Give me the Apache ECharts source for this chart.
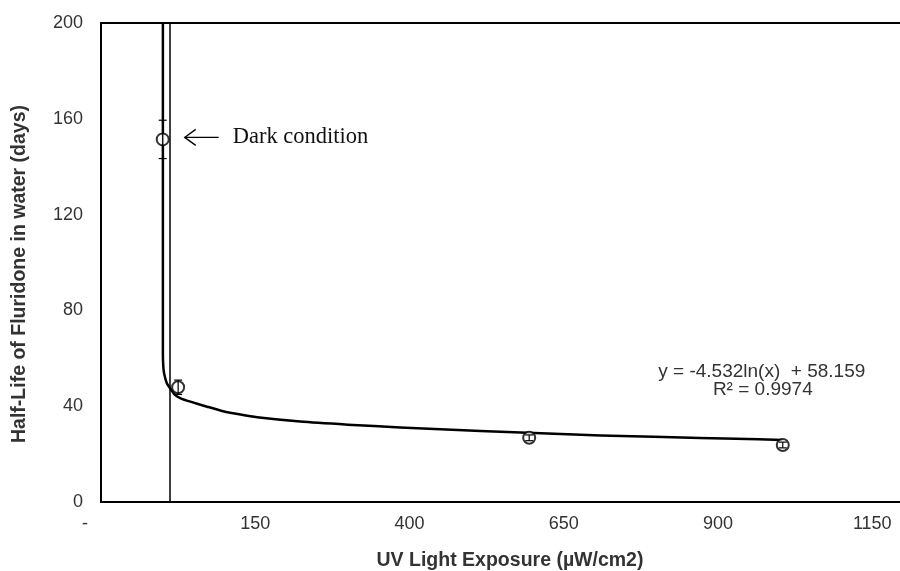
<!DOCTYPE html>
<html lang="en" style="height: 100%">

<head>
  <meta charset="utf-8">
</head>

<body style="height: 100%; margin: 0; background: #fff">
  <div id="container" style="width: 900px; height: 571px"></div>

  <script type="text/javascript" src="https://cdn.jsdelivr.net/npm/echarts@6/dist/echarts.min.js"></script>

  <script type="text/javascript">
    // measured points (UV exposure vs. half-life)
    var uvExposure = [0, 25, 594, 1005];
    var halfLife = [151.4, 47.9, 26.8, 23.8];
    var halfLifeErr = [8, 3, 1.2, 1.2];

    // log trendline
    var trendX = [0.3, 0.3, 1, 2.3, 6.7, 12, 20, 30, 45, 72, 98, 126, 153, 223, 300, 385, 515, 624, 710, 812, 929, 1005];
    var trendY = [200, 62, 56.5, 53.7, 49.6, 47.5, 44.7, 43.2, 41.9, 39.8, 37.9, 36.5, 35.4, 33.6, 32.3, 31.1, 29.6, 28.6, 27.8, 27.1, 26.4, 25.9];

    // thin vertical line next to the dark condition
    var refLineX = 12;

    var xTicks = { min: -100, max: 1195, step: 250 };
    var yTicks = { min: 0, max: 200, step: 40 };

    var dom = document.getElementById('container');
    var myChart = echarts.init(dom, null, { renderer: 'canvas' });

    var points = uvExposure.map(function (x, i) { return [x, halfLife[i]]; });
    var errBars = uvExposure.map(function (x, i) {
      return [x, halfLife[i] - halfLifeErr[i], halfLife[i] + halfLifeErr[i]];
    });
    var trend = trendX.map(function (x, i) { return [x, trendY[i]]; });

    var sans = '"Liberation Sans", Arial, sans-serif';
    var textColor = '#333';
    var axisLine = { show: true, onZero: false, lineStyle: { color: '#000', width: 2 } };

    var option = {
      animation: false,
      backgroundColor: '#fff',
      grid: { left: 101, right: 0, top: 23, bottom: 69 },
      xAxis: [
        {
          type: 'value',
          min: xTicks.min,
          max: xTicks.max,
          interval: xTicks.step,
          axisLine: axisLine,
          axisTick: { show: false },
          splitLine: { show: false },
          axisLabel: {
            color: textColor,
            fontFamily: sans,
            fontSize: 18,
            margin: 13,
            showMaxLabel: false,
            formatter: function (v) {
              if ((v - xTicks.min) % xTicks.step !== 0) return '';
              return v === xTicks.min ? '{dash|-}' : String(v);
            },
            rich: {
              dash: { color: textColor, fontFamily: sans, fontSize: 18, padding: [0, 32, 0, 0] }
            }
          }
        },
        {
          // top frame line
          type: 'value',
          position: 'top',
          min: xTicks.min,
          max: xTicks.max,
          axisLine: axisLine,
          axisTick: { show: false },
          axisLabel: { show: false },
          splitLine: { show: false }
        }
      ],
      yAxis: {
        type: 'value',
        min: yTicks.min,
        max: yTicks.max,
        interval: yTicks.step,
        axisLine: axisLine,
        axisTick: { show: false },
        splitLine: { show: false },
        axisLabel: {
          color: textColor,
          fontFamily: sans,
          fontSize: 18,
          margin: 18
        }
      },
      series: [
        {
          type: 'line',
          data: trend,
          showSymbol: false,
          smooth: 0.2,
          lineStyle: { color: '#000', width: 2.5, join: 'round' },
          z: 2,
          markLine: {
            silent: true,
            symbol: 'none',
            label: { show: false },
            lineStyle: { color: '#000', width: 1.5, type: 'solid' },
            data: [{ xAxis: refLineX }]
          }
        },
        {
          type: 'scatter',
          data: points,
          symbol: 'emptyCircle',
          symbolSize: 12,
          itemStyle: { color: '#000', borderWidth: 2.5 },
          z: 3
        },
        {
          type: 'custom',
          data: errBars,
          z: 4,
          renderItem: function (params, api) {
            var x = api.value(0);
            var lo = api.coord([x, api.value(1)]);
            var hi = api.coord([x, api.value(2)]);
            var cap = 4;
            var style = { stroke: '#000', lineWidth: 1.2 };
            return {
              type: 'group',
              children: [
                { type: 'line', shape: { x1: lo[0], y1: lo[1], x2: hi[0], y2: hi[1] }, style: style },
                { type: 'line', shape: { x1: lo[0] - cap, y1: lo[1], x2: lo[0] + cap, y2: lo[1] }, style: style },
                { type: 'line', shape: { x1: hi[0] - cap, y1: hi[1], x2: hi[0] + cap, y2: hi[1] }, style: style }
              ]
            };
          }
        }
      ]
    };

    myChart.setOption(option);

    // annotations placed from the chart's own scale
    var dark = myChart.convertToPixel({ gridIndex: 0 }, points[0]);
    var eqAt = myChart.convertToPixel({ gridIndex: 0 }, [971, 54.3]);

    myChart.setOption({
      graphic: [
        {
          type: 'text',
          x: 510, y: 561,
          style: {
            text: 'UV Light Exposure (µW/cm2)',
            fontFamily: sans, fontSize: 19.5, fontWeight: 'bold',
            fill: textColor, align: 'center', verticalAlign: 'middle'
          }
        },
        {
          type: 'text',
          x: 20, y: 274,
          rotation: Math.PI / 2,
          style: {
            text: 'Half-Life of Fluridone in water (days)',
            fontFamily: sans, fontSize: 19.5, fontWeight: 'bold',
            fill: textColor, align: 'center', verticalAlign: 'middle'
          }
        },
        {
          type: 'text',
          x: eqAt[0], y: eqAt[1],
          style: {
            text: 'y = -4.532ln(x)  + 58.159',
            fontFamily: sans, fontSize: 19,
            fill: textColor, align: 'center', verticalAlign: 'middle'
          }
        },
        {
          type: 'text',
          x: eqAt[0] + 1, y: eqAt[1] + 18,
          style: {
            text: 'R² = 0.9974',
            fontFamily: sans, fontSize: 19,
            fill: textColor, align: 'center', verticalAlign: 'middle'
          }
        },
        {
          type: 'polyline',
          shape: { points: [[dark[0] + 56, dark[1] - 2], [dark[0] + 22, dark[1] - 2]] },
          style: { stroke: '#000', lineWidth: 1.3, fill: null }
        },
        {
          type: 'polyline',
          shape: { points: [[dark[0] + 33, dark[1] - 10], [dark[0] + 22, dark[1] - 2], [dark[0] + 33, dark[1] + 6]] },
          style: { stroke: '#000', lineWidth: 1.3, fill: null }
        },
        {
          type: 'text',
          x: dark[0] + 70, y: dark[1] - 2,
          style: {
            text: 'Dark condition',
            fontFamily: '"Liberation Serif", "Times New Roman", serif',
            fontSize: 22.5,
            fill: '#111', align: 'left', verticalAlign: 'middle'
          }
        }
      ]
    });

    window.addEventListener('resize', myChart.resize);
  </script>
</body>

</html>
